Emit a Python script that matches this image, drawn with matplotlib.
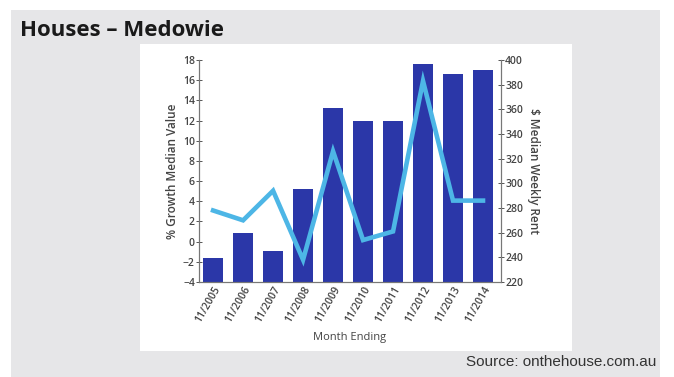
import numpy as np
import matplotlib.pyplot as plt
from matplotlib.patches import Rectangle

years = ['11/2005', '11/2006', '11/2007', '11/2008', '11/2009',
         '11/2010', '11/2011', '11/2012', '11/2013', '11/2014']
growth = [-1.6, 0.9, -0.9, 5.2, 13.2, 12.0, 12.0, 17.6, 16.6, 17.0]
rent = [278, 270, 294, 238, 326, 254, 261, 383, 286, 286]

W, H = 674, 377
fig = plt.figure(figsize=(W / 100, H / 100), dpi=100)

# grey frame and white panel (behind the axes)
fig.patches.append(Rectangle((11 / W, 0), 649 / W, 367 / H, transform=fig.transFigure,
                             facecolor='#e6e6e8', edgecolor='none', zorder=-10))
fig.patches.append(Rectangle((140 / W, 1 - 351 / H), 432 / W, 307 / H, transform=fig.transFigure,
                             facecolor='white', edgecolor='none', zorder=-9))

fig.text(20 / W, 1 - 31 / H, 'Houses – Medowie', fontsize=16, fontweight='bold',
         family='Open Sans', color='#1a1a1a', va='center', ha='left')
fig.text(656 / W, 1 - 362 / H, 'Source: onthehouse.com.au', fontsize=11,
         family='Liberation Sans', color='#333333', ha='right', va='center')

ybase = -4
ax = fig.add_axes([199 / W, 1 - 282 / H, 302 / W, 222 / H])
ax.set_facecolor('none')
x = np.arange(len(years))
# bars rise from the bottom of the axis
ax.bar(x, np.array(growth) - ybase, bottom=ybase, width=0.69, color='#2b37a8', zorder=2)
ax.set_xlim(-0.47, 9.6)
ax.set_ylim(-4, 18)
ax.set_yticks(np.arange(-4, 19, 2))
ax.set_xticks(x)
ax.set_xticklabels(years, rotation=60, ha='right', rotation_mode='anchor')

ax2 = ax.twinx()
ax2.plot(x, rent, color='#4db6e6', linewidth=3.3, zorder=3, solid_joinstyle='miter')
ax2.set_ylim(220, 400)
ax2.set_yticks(np.arange(220, 401, 20))

for a in (ax, ax2):
    for s in a.spines.values():
        s.set_color('#777777')
        s.set_linewidth(0.8)
    a.spines['top'].set_visible(False)
    a.tick_params(labelsize=7.5, colors='#555555', labelcolor='#444444',
                  direction='inout', length=4, width=0.7, pad=1)
    for lbl in a.get_xticklabels() + a.get_yticklabels():
        lbl.set_family('Open Sans')
        lbl.set_fontweight('semibold')
ax.tick_params(axis='x', length=0, pad=2)

ax.set_xlabel('Month Ending', fontsize=8, family='Open Sans', color='#444444', labelpad=5)
ax.set_ylabel('% Growth Median Value', fontsize=8.5, family='Open Sans', fontweight='semibold',
              color='#444444', labelpad=3)
ax2.set_ylabel('$ Median Weekly Rent', fontsize=8.5, family='Open Sans', fontweight='semibold',
               color='#444444', rotation=-90, labelpad=12)

fig.savefig('out.png', dpi=100)
